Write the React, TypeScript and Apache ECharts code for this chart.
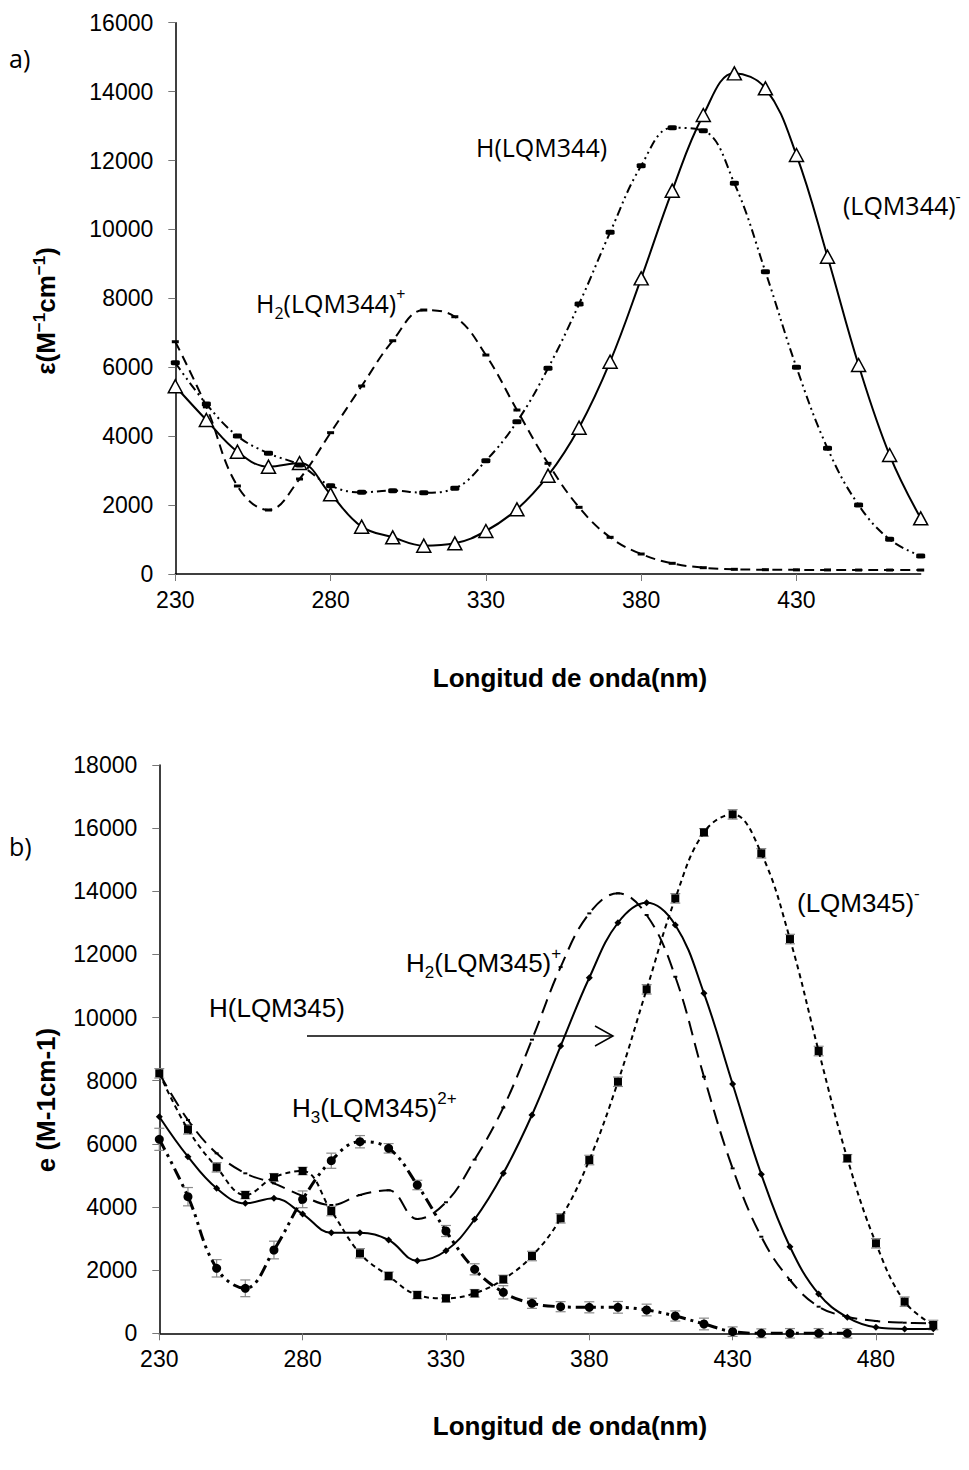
import React, { useEffect, useRef } from 'react';
import * as echarts from 'echarts';

// ---------- Data: panel a (LQM344) ----------
const wavelengthsA = ['230','240','250','260','270','280','290','300','310','320','330','340','350','360','370','380','390','400','410','420','430','440','450','460','470'];
const anion344 = [5450,4470,3550,3115,3220,2313,1373,1065,822,890,1248,1877,2853,4247,6161,8580,11125,13320,14530,14095,12159,9208,6065,3453,1616];
const neutral344 = [6132,4933,4005,3502,3163,2563,2370,2418,2360,2487,3288,4420,5970,7835,9916,11849,12952,12865,11338,8773,5998,3648,2002,1006,522];
const cation344 = [6741,4850,2554,1857,2757,4101,5456,6770,7661,7467,6355,4759,3212,1935,1065,580,310,183,136,125,120,118,115,115,115];

// ---------- Data: panel b (LQM345) ----------
const wavelengthsB = ['230','240','250','260','270','280','290','300','310','320','330','340','350','360','370','380','390','400','410','420','430','440','450','460','470','480','490','500'];
const neutral345 = [6860,5593,4592,4117,4275,3778,3186,3186,2955,2299,2616,3610,5067,6914,9099,11262,13004,13637,12931,10768,7895,5035,2743,1245,507,190,136,146];
const cation345 = [8234,6755,5700,5067,4750,4348,4063,4380,4530,3620,4150,5500,7150,9300,11600,13300,13935,13248,11293,8127,5225,3059,1688,843,526,390,336,317];
const anion345 = [8234,6460,5257,4380,4940,5140,3873,2533,1815,1213,1108,1267,1710,2448,3642,5488,7968,10894,13776,15866,16436,15202,12487,8941,5542,2850,1001,263];
const anion345Err = [150,150,150,120,120,120,150,150,130,120,120,120,130,150,150,150,150,150,150,120,150,150,150,150,120,150,150,150];
const dication345 = [6144,4327,2058,1425,2638,4244,5466,6068,5859,4697,3240,2027,1298,950,843,823,823,738,548,295,53,0,0,0,0,null,null,null];
const dication345Err = [350,290,275,265,280,265,240,195,150,150,175,175,210,160,160,175,185,185,160,185,150,140,150,150,150,null,null,null];

const ARIAL = '"Liberation Sans", Arial, sans-serif';
const CAL = '"Open Sans", "Noto Sans", sans-serif';

function xAxisCfg(gridIndex: number, data: string[]) {
  return {
    type: 'category', gridIndex, data, boundaryGap: false,
    axisLine: { show: true, lineStyle: { color: '#000', width: 1.5 } },
    axisTick: { show: true, interval: 4, length: 7, lineStyle: { color: '#777' } },
    axisLabel: { interval: 4, color: '#000', fontSize: 23, fontFamily: ARIAL, margin: 14 },
    splitLine: { show: false },
  };
}
function yAxisCfg(gridIndex: number, max: number) {
  return {
    type: 'value', gridIndex, min: 0, max, interval: 2000,
    axisLine: { show: true, lineStyle: { color: '#000', width: 1.5 } },
    axisTick: { show: true, length: 7, lineStyle: { color: '#777' } },
    axisLabel: { color: '#000', fontSize: 23, fontFamily: ARIAL, margin: 22, formatter: (v: number) => String(v) },
    splitLine: { show: false },
  };
}

function richLabel(x: number, y: number, text: string, family: string, size: number) {
  const small = Math.round(size * 0.65);
  return {
    type: 'text', x, y, z: 100,
    style: {
      text,
      fill: '#000', fontSize: size, fontFamily: family,
      align: 'left', verticalAlign: 'middle', textAlign: 'left', textVerticalAlign: 'middle',
      rich: {
        n: { fontSize: size, fontFamily: family, fill: '#000', lineHeight: size + 10 },
        sub: { fontSize: small, fontFamily: family, fill: '#000', lineHeight: small, verticalAlign: 'bottom' },
        sup: { fontSize: small, fontFamily: family, fill: '#000', lineHeight: small + 15, verticalAlign: 'top' },
      },
    },
  };
}

function errorSeries(xAxisIndex: number, yAxisIndex: number, values: (number | null)[], errs: (number | null)[]) {
  const data: number[][] = [];
  values.forEach((v, i) => {
    const e = errs[i];
    if (v !== null && e !== null) data.push([i, v, e]);
  });
  return {
    type: 'custom', xAxisIndex, yAxisIndex, z: 1, silent: true,
    encode: { x: 0, y: 1 },
    data,
    renderItem: (params: any, api: any) => {
      const i = api.value(0), v = api.value(1), e = api.value(2);
      const t = api.coord([i, v + e]);
      const b = api.coord([i, v - e]);
      const w = 5;
      const st = { stroke: '#8a8a8a', lineWidth: 1.2 };
      return {
        type: 'group',
        children: [
          { type: 'line', shape: { x1: t[0], y1: t[1], x2: b[0], y2: b[1] }, style: st },
          { type: 'line', shape: { x1: t[0] - w, y1: t[1], x2: t[0] + w, y2: t[1] }, style: st },
          { type: 'line', shape: { x1: b[0] - w, y1: b[1], x2: b[0] + w, y2: b[1] }, style: st },
        ],
      };
    },
  };
}

function lineSeries(name: string, xi: number, yi: number, data: (number | null)[], dash: any, width: number, symbol: string, symbolSize: any, fill: string, border = 0) {
  return {
    name, type: 'line', xAxisIndex: xi, yAxisIndex: yi, data,
    smooth: 0.4, connectNulls: false,
    symbol, symbolSize, showSymbol: true,
    lineStyle: { color: '#000', width, type: dash },
    itemStyle: { color: fill, borderColor: '#000', borderWidth: border },
    emphasis: { disabled: true },
    z: 3,
  };
}

export default function App() {
  const ref = useRef<HTMLDivElement>(null);
  useEffect(() => {
    document.body.style.margin = '0';
    const chart = echarts.init(ref.current!, null, { renderer: 'svg' });
    const option: any = {
      animation: false,
      backgroundColor: '#fff',
      grid: [
        { left: 175.3, top: 22.7, width: 745.4, height: 551.3 },
        { left: 159.3, top: 765, width: 774, height: 568.3 },
      ],
      xAxis: [xAxisCfg(0, wavelengthsA), xAxisCfg(1, wavelengthsB)],
      yAxis: [yAxisCfg(0, 16000), yAxisCfg(1, 18000)],
      series: [
        lineSeries('(LQM344)-', 0, 0, anion344, 'solid', 2, 'triangle', [14, 13], '#fff', 1.5),
        lineSeries('H(LQM344)', 0, 0, neutral344, [9, 4, 2, 4, 2, 4], 2, 'roundRect', [9, 5], '#000'),
        lineSeries('H2(LQM344)+', 0, 0, cation344, [10, 6], 2, 'rect', [7, 3], '#000'),
        errorSeries(1, 1, anion345, anion345Err),
        errorSeries(1, 1, dication345, dication345Err),
        lineSeries('H(LQM345)', 1, 1, neutral345, 'solid', 2, 'diamond', 7, '#000'),
        lineSeries('H2(LQM345)+', 1, 1, cation345, [15, 8], 2, 'rect', [4, 2], '#000'),
        lineSeries('(LQM345)-', 1, 1, anion345, [5, 4], 2, 'rect', 8, '#000'),
        lineSeries('H3(LQM345)2+', 1, 1, dication345, [12, 5, 3, 5, 3, 5], 3, 'circle', 9, '#000'),
      ],
      graphic: [
        richLabel(9, 58, '{n|a)}', CAL, 25),
        richLabel(9, 846, '{n|b)}', CAL, 25),
        richLabel(476, 147, '{n|H(LQM344)}', CAL, 25),
        richLabel(843, 205, '{n|(LQM344)}{sup|-}', CAL, 25),
        richLabel(256, 303, '{n|H}{sub|2}{n|(LQM344)}{sup|+}', CAL, 25),
        richLabel(797, 903, '{n|(LQM345)}{sup|-}', ARIAL, 26),
        richLabel(406, 963, '{n|H}{sub|2}{n|(LQM345)}{sup|+}', ARIAL, 26),
        richLabel(209, 1008, '{n|H(LQM345)}', ARIAL, 26),
        richLabel(292, 1108, '{n|H}{sub|3}{n|(LQM345)}{sup|2+}', ARIAL, 26),
        // arrow
        { type: 'line', shape: { x1: 307, y1: 1036, x2: 613, y2: 1036 }, style: { stroke: '#000', lineWidth: 1.5 } },
        { type: 'polyline', shape: { points: [[595, 1026], [613, 1036], [595, 1046]] }, style: { stroke: '#000', lineWidth: 1.5, fill: 'none' } },
        // axis titles
        {
          type: 'text', x: 46, y: 311, rotation: Math.PI / 2,
          style: {
            text: '{b|ε(M}{s|−1}{b|cm}{s|−1}{b|)}',
            align: 'center', verticalAlign: 'middle', textAlign: 'center', textVerticalAlign: 'middle',
            fill: '#000', fontSize: 26, fontWeight: 'bold', fontFamily: ARIAL,
            rich: {
              b: { fontSize: 26, fontWeight: 'bold', fontFamily: ARIAL, fill: '#000', lineHeight: 30 },
              s: { fontSize: 17, fontWeight: 'bold', fontFamily: ARIAL, fill: '#000', lineHeight: 17, verticalAlign: 'top' },
            },
          },
        },
        {
          type: 'text', x: 46, y: 1100, rotation: Math.PI / 2,
          style: {
            text: 'e (M-1cm-1)', align: 'center', verticalAlign: 'middle', textAlign: 'center', textVerticalAlign: 'middle',
            fill: '#000', fontSize: 26, fontWeight: 'bold', fontFamily: ARIAL,
          },
        },
        {
          type: 'text', x: 570, y: 678,
          style: {
            text: 'Longitud de onda(nm)', align: 'center', verticalAlign: 'middle', textAlign: 'center', textVerticalAlign: 'middle',
            fill: '#000', fontSize: 26, fontWeight: 'bold', fontFamily: ARIAL,
          },
        },
        {
          type: 'text', x: 570, y: 1426,
          style: {
            text: 'Longitud de onda(nm)', align: 'center', verticalAlign: 'middle', textAlign: 'center', textVerticalAlign: 'middle',
            fill: '#000', fontSize: 26, fontWeight: 'bold', fontFamily: ARIAL,
          },
        },
      ],
    };
    chart.setOption(option);
    return () => chart.dispose();
  }, []);
  return <div ref={ref} style={{ width: 969, height: 1470 }} />;
}
